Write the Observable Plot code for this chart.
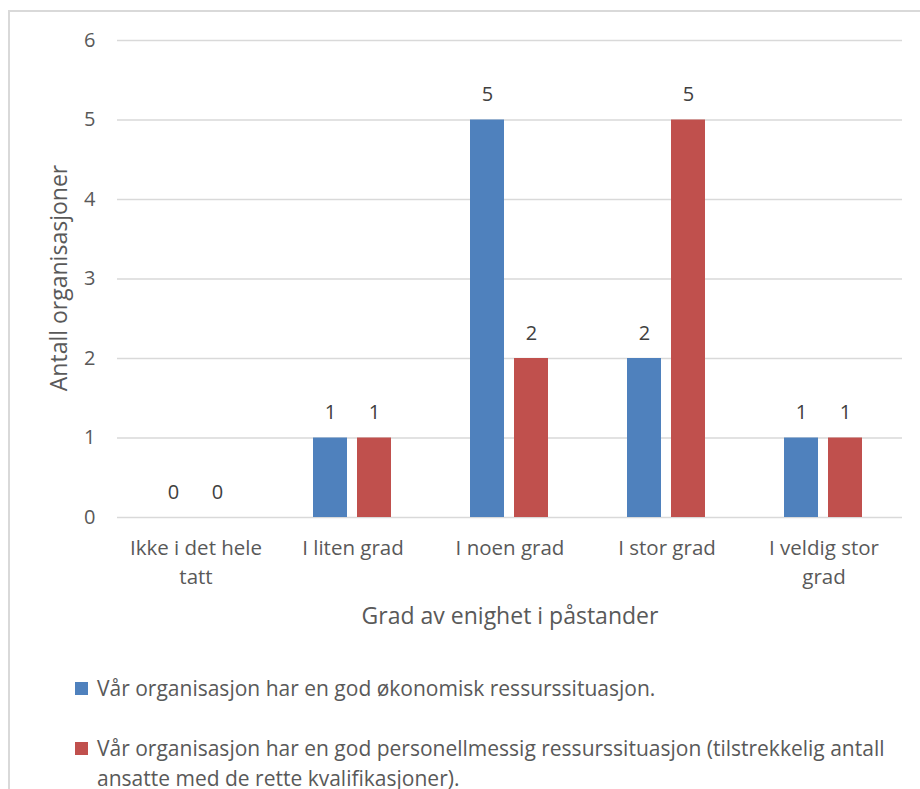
<!DOCTYPE html>
<html>
<head>
<meta charset="utf-8">
<script src="https://cdn.jsdelivr.net/npm/d3@7"></script>
<script src="https://cdn.jsdelivr.net/npm/@observablehq/plot@0.6"></script>
<style>
  html, body { margin: 0; padding: 0; background: #fff; }
  #wrap { position: relative; width: 920px; height: 789px; overflow: hidden; font-family: "Open Sans", sans-serif; }
  #frame { position: absolute; left: 8px; top: 10px; width: 960px; height: 820px; border-left: 2px solid #d9d9d9; border-top: 2px solid #d9d9d9; box-sizing: border-box; }
  #chart { position: absolute; left: 0; top: 0; }
  .title { position: absolute; color: #595959; font-size: 23px; white-space: nowrap; line-height: 1; }
  #ytitle { left: 58px; top: 278px; transform: translate(-50%, -50%) rotate(-90deg); }
  #xtitle { left: 510px; top: 615px; transform: translate(-50%, -50%); }
  .leg { position: absolute; left: 75px; display: flex; align-items: flex-start; color: #595959; font-size: 21px; line-height: 30px; }
  .sw { width: 13px; height: 13px; margin-top: 9px; margin-right: 9px; flex: none; }
  .lt { width: 805px; }
</style>
</head>
<body>
<div id="wrap">
  <div id="frame"></div>
  <div id="chart"></div>
  <div id="ytitle" class="title"></div>
  <div id="xtitle" class="title"></div>
  <div id="legend"></div>
</div>
<script>
const categories = ["Ikke i det hele tatt", "I liten grad", "I noen grad", "I stor grad", "I veldig stor grad"];
const tickLabels = ["Ikke i det hele\ntatt", "I liten grad", "I noen grad", "I stor grad", "I veldig stor\ngrad"];
const series = [
  "Vår organisasjon har en god økonomisk ressurssituasjon.",
  "Vår organisasjon har en god personellmessig ressurssituasjon (tilstrekkelig antall ansatte med de rette kvalifikasjoner)."
];
const okonomisk = [0, 1, 5, 2, 1];
const personell = [0, 1, 2, 5, 1];
const colors = ["#4F81BD", "#C0504D"];
const yTicks = [0, 1, 2, 3, 4, 5, 6];
const yTitle = "Antall organisasjoner";
const xTitle = "Grad av enighet i påstander";

const values = [okonomisk, personell];
const data = categories.flatMap((c, i) => series.map((s, j) => ({cat: c, s, v: values[j][i]})));

const chart = Plot.plot({
  width: 920,
  height: 640,
  marginLeft: 117,
  marginRight: 18,
  marginTop: 40,
  marginBottom: 123,
  style: {fontFamily: "Open Sans, sans-serif", background: "transparent", overflow: "visible"},
  fx: {domain: categories, padding: 0, label: null},
  x: {domain: series, paddingInner: 0.222, paddingOuter: 0.856, axis: null},
  y: {domain: [0, 6], axis: null},
  color: {domain: series, range: colors},
  marks: [
    Plot.gridY(yTicks, {stroke: "#d9d9d9", strokeOpacity: 1, strokeWidth: 1.5}),
    Plot.barY(data, {fx: "cat", x: "s", y: "v", fill: "s"}),
    Plot.text(data, {fx: "cat", x: "s", y: "v", text: d => String(d.v), dy: -25, fontSize: 20, fill: "#404040"}),
    Plot.axisY(yTicks, {tickSize: 0, tickPadding: 22, fontSize: 20, color: "#595959", label: null, tickFormat: d => String(d)}),
    Plot.axisFx({anchor: "bottom", tickSize: 0, tickPadding: 17, fontSize: 20.5, lineHeight: 1.42, color: "#595959", label: null,
      tickFormat: d => tickLabels[categories.indexOf(d)]})
  ]
});
document.getElementById("chart").appendChild(chart);
document.getElementById("ytitle").textContent = yTitle;
document.getElementById("xtitle").textContent = xTitle;

const legend = document.getElementById("legend");
const tops = [673, 733];
series.forEach((s, i) => {
  const row = document.createElement("div");
  row.className = "leg";
  row.style.top = tops[i] + "px";
  const sw = document.createElement("div");
  sw.className = "sw";
  sw.style.background = colors[i];
  const t = document.createElement("div");
  t.className = "lt";
  t.textContent = s;
  row.appendChild(sw);
  row.appendChild(t);
  legend.appendChild(row);
});
</script>
</body>
</html>
